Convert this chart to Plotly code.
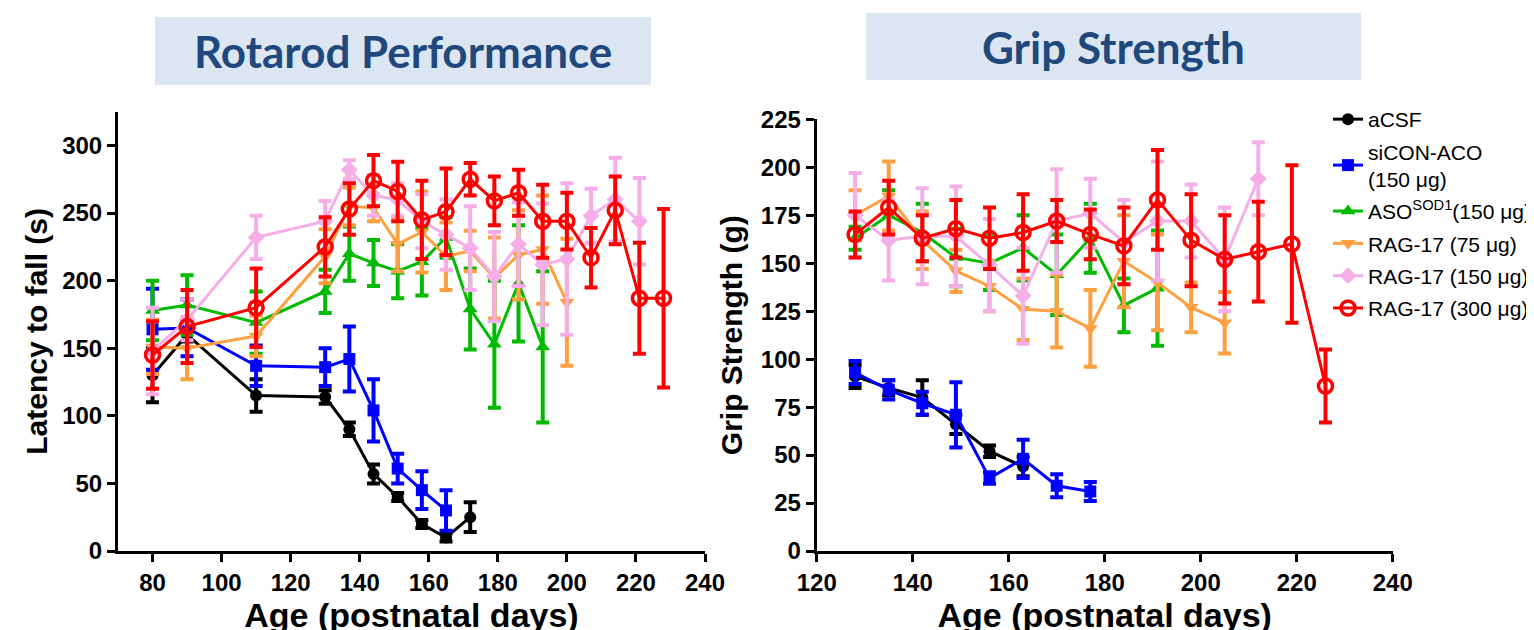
import plotly.graph_objects as go

# ---------------- Rotarod data ----------------
rot_days = [80, 90, 110, 130, 137, 144, 151, 158, 165, 172, 179, 186, 193, 200, 207, 214, 221, 228]

rot_acsf = [130, 160, 115, 114, 90, 57, 40, 20, 10, 25]
rot_acsf_err = [20, 5, 12, 5, 5, 7, 3, 3, 3, 11]

rot_sicon = [164, 165, 137, 136, 142, 104, 61, 45, 30]
rot_sicon_err = [30, 21, 15, 14, 24, 23, 11, 14, 15]

rot_aso = [178, 182, 169, 192, 220, 213, 207, 214, 232, 179, 153, 198, 151]
rot_aso_err = [22, 22, 23, 16, 20, 17, 20, 25, 15, 30, 47, 43, 56]

rot_r75 = [151, 150, 159, 218, 255, 254, 227, 236, 218, 222, 202, 219, 223, 184]
rot_r75_err = [20, 23, 15, 20, 14, 10, 20, 30, 25, 15, 30, 33, 40, 47]

rot_r150 = [148, 171, 232, 244, 282, 263, 260, 244, 234, 224, 203, 227, 212, 216, 248, 260, 244]
rot_r150_err = [32, 15, 16, 15, 7, 15, 12, 20, 26, 31, 33, 31, 45, 56, 20, 31, 32]

rot_r300 = [145, 166, 180, 225, 253, 274, 266, 245, 251, 275, 259, 265, 244, 244, 217, 252, 187, 187]
rot_r300_err = [25, 27, 29, 22, 19, 19, 22, 29, 32, 12, 18, 17, 27, 21, 22, 25, 41, 66]

# ---------------- Grip strength data ----------------
grip_days = [128, 135, 142, 149, 156, 163, 170, 177, 184, 191, 198, 205, 212, 219, 226]

grip_acsf = [91, 85, 80, 66, 52, 44]
grip_acsf_err = [6, 4, 9, 5, 3, 5]

grip_sicon = [93, 84, 77, 71, 38, 48, 34, 31]
grip_sicon_err = [6, 5, 6, 17, 3, 10, 6, 5]

grip_aso = [163, 175, 166, 153, 150, 158, 144, 163, 128, 137]
grip_aso_err = [6, 13, 15, 15, 14, 17, 21, 18, 14, 30]

grip_r75 = [175, 185, 162, 146, 138, 126, 125, 116, 151, 140, 127, 119]
grip_r75_err = [13, 18, 15, 11, 13, 16, 19, 20, 24, 25, 13, 16]

grip_r150 = [175, 162, 164, 164, 149, 133, 172, 176, 161, 172, 172, 152, 194]
grip_r150_err = [22, 21, 25, 26, 24, 25, 27, 18, 22, 31, 19, 27, 19]

grip_r300 = [165, 179, 163, 168, 163, 166, 172, 165, 159, 183, 162, 152, 156, 160, 86]
grip_r300_err = [12, 14, 12, 15, 16, 20, 11, 13, 20, 26, 24, 23, 26, 41, 19]

series_names = ["aCSF", "siCON-ACO<br>(150 μg)", "ASO<sup>SOD1</sup>(150 μg)",
                "RAG-17 (75 μg)", "RAG-17 (150 μg)", "RAG-17 (300 μg)"]
colors = ["#000000", "#0000ff", "#00bb00", "#ffa040", "#f5aee8", "#ff0000"]
symbols = ["circle", "square", "triangle-up", "triangle-down", "diamond", "circle-open"]
msizes = [12, 12, 13, 13, 13, 14]

rot_vals = [rot_acsf, rot_sicon, rot_aso, rot_r75, rot_r150, rot_r300]
rot_errs = [rot_acsf_err, rot_sicon_err, rot_aso_err, rot_r75_err, rot_r150_err, rot_r300_err]
grip_vals = [grip_acsf, grip_sicon, grip_aso, grip_r75, grip_r150, grip_r300]
grip_errs = [grip_acsf_err, grip_sicon_err, grip_aso_err, grip_r75_err, grip_r150_err, grip_r300_err]

W, H = 1534, 630
OFF = 8  # page body offset compensation
fig = go.Figure()

def add_series(days, vals, errs, i, xa, ya, show):
    n = len(vals)
    fig.add_trace(go.Scatter(
        x=days[:n], y=vals, mode="lines+markers",
        name=series_names[i], legendgroup=str(i), showlegend=show,
        line=dict(color=colors[i], width=3),
        marker=dict(symbol=symbols[i], size=msizes[i], color=colors[i],
                    line=dict(color=colors[i], width=3.5 if i == 5 else 0)),
        error_y=dict(type="data", array=errs, symmetric=True, color=colors[i],
                     thickness=4, width=6.5),
        xaxis=xa, yaxis=ya,
    ))

for i in range(6):
    add_series(rot_days, rot_vals[i], rot_errs[i], i, "x", "y", True)
for i in range(6):
    add_series(grip_days, grip_vals[i], grip_errs[i], i, "x2", "y2", False)

FONT = "Liberation Sans, Arial"
tickfont = dict(family=FONT, size=24, color="black", weight="bold")
xtitlefont = dict(family=FONT, size=34, color="black", weight="bold")
ytitlefont = dict(family=FONT, size=30, color="black", weight="bold")
axis_common = dict(showline=True, linecolor="black", linewidth=3, ticks="outside",
                   ticklen=8, tickwidth=3, tickcolor="black", showgrid=False,
                   zeroline=False, tickfont=tickfont, mirror=False, automargin=False)

def px_x(p):
    return (p - OFF) / W

def px_y(p):
    return 1 - (p - OFF) / H

fig.update_layout(
    width=W, height=H,
    margin=dict(l=0, r=0, t=0, b=0, autoexpand=False),
    paper_bgcolor="white", plot_bgcolor="white",
    showlegend=True,
    legend=dict(x=px_x(1328), y=px_y(99), xanchor="left", yanchor="top",
                font=dict(family=FONT, size=21, color="black"),
                bgcolor="rgba(0,0,0,0)", tracegroupgap=2),
    xaxis=dict(domain=[px_x(118), px_x(705)], range=[70, 240], tickvals=[80, 100, 120, 140, 160, 180, 200, 220, 240],
               anchor="y", title=dict(text="Age (postnatal days)", font=xtitlefont, standoff=2), **axis_common),
    yaxis=dict(domain=[px_y(551), px_y(111.7)], range=[0, 325], tickvals=[0, 50, 100, 150, 200, 250, 300],
               anchor="x", title=dict(text="Latency to fall (s)", font=ytitlefont, standoff=6), **axis_common),
    xaxis2=dict(domain=[px_x(816.7), px_x(1392.7)], range=[120, 240], tickvals=[120, 140, 160, 180, 200, 220, 240],
                anchor="y2", title=dict(text="Age (postnatal days)", font=xtitlefont, standoff=2), **axis_common),
    yaxis2=dict(domain=[px_y(551), px_y(119.3)], range=[0, 225], tickvals=list(range(0, 226, 25)),
                anchor="x2", title=dict(text="Grip Strength (g)", font=ytitlefont, standoff=10), **axis_common),
)

titles = [("Rotarod Performance", 155, 651, 17, 85), ("Grip Strength", 866, 1361, 13, 80)]
for text, x0, x1, y0, y1 in titles:
    fig.add_shape(type="rect", xref="paper", yref="paper",
                  x0=px_x(x0), x1=px_x(x1), y0=px_y(y1), y1=px_y(y0),
                  fillcolor="#dce6f2", line=dict(width=0), layer="below")
    fig.add_annotation(xref="paper", yref="paper", x=px_x((x0 + x1) / 2), y=px_y((y0 + y1) / 2),
                       text=text, showarrow=False, xanchor="center", yanchor="middle",
                       font=dict(family="Lato, Open Sans", size=44, color="#1f497d", weight="bold"))

fig.write_html("out.html")
